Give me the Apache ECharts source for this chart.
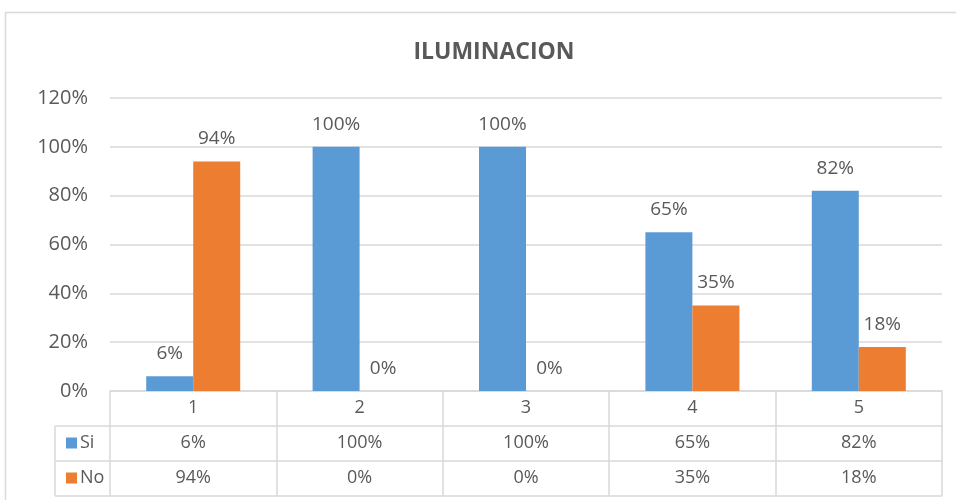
<!DOCTYPE html>
<html>
<head>
<meta charset="utf-8">
<script src="https://cdn.jsdelivr.net/npm/echarts@6/dist/echarts.min.js"></script>
<style>html,body{margin:0;padding:0;background:#fff}#c{width:956px;height:500px}</style>
</head>
<body>
<div id="c"></div>
<script>
var categories = ['1', '2', '3', '4', '5'];
var siValues = [0.06, 1.00, 1.00, 0.65, 0.82];
var noValues = [0.94, 0.00, 0.00, 0.35, 0.18];
var seriesNames = ['Si', 'No'];
var yTicks = [0, 0.2, 0.4, 0.6, 0.8, 1.0, 1.2];

var FONT = '"Open Sans", sans-serif';
var TXT = '#595959';
var LINE = '#d9d9d9';
var W = 956, H = 500;
var G = { left: 110, right: 14, top: 98, bottom: 109 };
var ROW = 35;
var pct = function (v) { return Math.round(v * 100) + '%'; };

var chart = echarts.init(document.getElementById('c'), null, { renderer: 'canvas' });

var gridBottomY = H - G.bottom;
var tableLeft = 55;
var tableRight = W - G.right;

var option = {
  animation: false,
  textStyle: { fontFamily: FONT },
  title: {
    text: 'ILUMINACION',
    left: 489, top: 36, textAlign: 'center',
    textStyle: { fontFamily: FONT, fontSize: 23, fontWeight: 'bold', color: TXT }
  },
  legend: {
    data: seriesNames,
    orient: 'vertical',
    left: 61, top: gridBottomY + ROW + 1,
    itemWidth: 11, itemHeight: 11, icon: 'rect',
    itemGap: 13,
    textStyle: { fontFamily: FONT, fontSize: 18, lineHeight: 22, color: TXT, padding: [0, 0, 0, -2] }
  },
  grid: { left: G.left, right: G.right, top: G.top, bottom: G.bottom, containLabel: false },
  xAxis: [
    {
      type: 'category', data: categories, position: 'bottom',
      axisLine: { show: true, lineStyle: { color: LINE, width: 1.5 } },
      axisTick: { show: true, interval: 0, length: ROW * 3, lineStyle: { color: LINE, width: 1.5 } },
      axisLabel: { margin: 8, fontSize: 18, color: TXT, fontFamily: FONT }
    },
    {
      type: 'category', data: categories, position: 'bottom', offset: ROW,
      axisLine: { show: false }, axisTick: { show: false },
      axisLabel: { margin: 8, fontSize: 18, color: TXT, fontFamily: FONT,
        formatter: function (v, i) { return pct(siValues[i]); } }
    },
    {
      type: 'category', data: categories, position: 'bottom', offset: ROW * 2,
      axisLine: { show: false }, axisTick: { show: false },
      axisLabel: { margin: 8, fontSize: 18, color: TXT, fontFamily: FONT,
        formatter: function (v, i) { return pct(noValues[i]); } }
    }
  ],
  yAxis: {
    type: 'value', min: yTicks[0], max: yTicks[yTicks.length - 1], interval: yTicks[1] - yTicks[0],
    axisLine: { show: false }, axisTick: { show: false },
    axisLabel: { margin: 22, fontSize: 20, color: TXT, fontFamily: FONT, formatter: pct },
    splitLine: { lineStyle: { color: LINE, width: 1.5 } }
  },
  series: [
    {
      name: seriesNames[0], type: 'bar', data: siValues, barWidth: 47, barGap: '0%',
      itemStyle: { color: '#5B9BD5' },
      label: { show: true, position: 'top', distance: 13, fontSize: 19, color: TXT, fontFamily: FONT, formatter: function (p) { return pct(p.value); } }
    },
    {
      name: seriesNames[1], type: 'bar', data: noValues, barWidth: 47, barGap: '0%',
      itemStyle: { color: '#ED7D31' },
      label: { show: true, position: 'top', distance: 13, fontSize: 19, color: TXT, fontFamily: FONT, formatter: function (p) { return pct(p.value); } }
    }
  ],
  graphic: [
    { type: 'rect', silent: true, shape: { x: 5.5, y: 12.5, width: 1000, height: 600 }, style: { fill: null, stroke: LINE, lineWidth: 1.5 } },
    { type: 'line', silent: true, shape: { x1: tableLeft, y1: gridBottomY + ROW, x2: tableRight, y2: gridBottomY + ROW }, style: { stroke: LINE, lineWidth: 1.5 } },
    { type: 'line', silent: true, shape: { x1: tableLeft, y1: gridBottomY + ROW * 2, x2: tableRight, y2: gridBottomY + ROW * 2 }, style: { stroke: LINE, lineWidth: 1.5 } },
    { type: 'line', silent: true, shape: { x1: tableLeft, y1: gridBottomY + ROW * 3, x2: tableRight, y2: gridBottomY + ROW * 3 }, style: { stroke: LINE, lineWidth: 1.5 } },
    { type: 'line', silent: true, shape: { x1: tableLeft, y1: gridBottomY + ROW, x2: tableLeft, y2: gridBottomY + ROW * 3 }, style: { stroke: LINE, lineWidth: 1.5 } }
  ]
};
chart.setOption(option);
</script>
</body>
</html>
